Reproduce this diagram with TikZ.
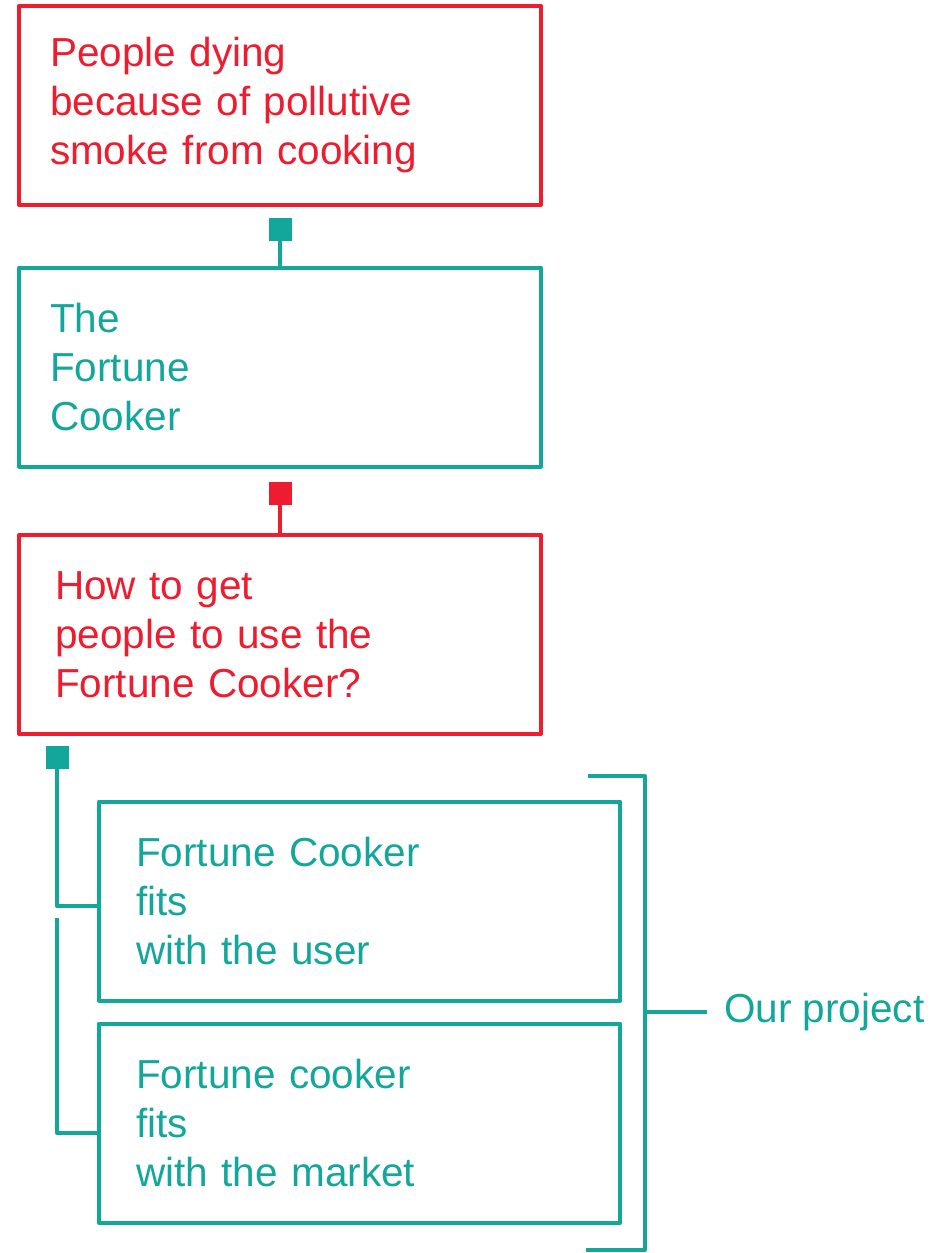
\documentclass[tikz,border=0pt]{standalone}
\usepackage{fontspec}
\setmainfont{Liberation Sans}
\usetikzlibrary{positioning, calc}

\definecolor{alarmred}{RGB}{237,28,46}
\definecolor{cookteal}{RGB}{19,167,155}

\begin{document}
\begin{tikzpicture}[x=1pt, y=-1pt, line join=round]

	%======================
	% PARAMETERS (edit here)
	%======================
	\def\bw{522}          % box width
	\def\bh{199}          % box height
	\def\sq{23}           % size of the small connector squares

	% Styles
	\tikzset{
		box/.style={draw, line width=4pt, minimum width=\bw pt, minimum height=\bh pt,
			align=left, font=\fontsize{40.5}{49}\selectfont},
		indent/.style 2 args={inner xsep=#1, text width=#2},
		redbox/.style={box, draw=alarmred, text=alarmred},
		tealbox/.style={box, draw=cookteal, text=cookteal},
		plug/.style={rectangle, draw=none, minimum size=\sq pt, inner sep=0pt},
		link/.style={line width=4pt, cookteal},
		tag/.style={text=cookteal, anchor=west, inner xsep=17pt,
			font=\fontsize{40.5}{49}\selectfont}
	}

	\useasboundingbox (0,0) rectangle (938,1253);

	%======================
	% MAIN CHAIN
	%======================
	\node[redbox, indent={31pt}{460pt}] (smoke) at (280,105.5) {People dying\\because of pollutive\\smoke from cooking};
	\node[plug, fill=cookteal] (plugA) at (280,229.5) {};
	\node[tealbox, indent={31pt}{460pt}] (cooker) at (280,367) {The\\Fortune\\Cooker};
	\node[plug, fill=alarmred] (plugB) at (280,493) {};
	\node[redbox, indent={36pt}{450pt}] (adopt) at (280,634.5) {How to get\\people to use the\\Fortune Cooker?};

	\draw[link] (plugA.south) -- (cooker.north);
	\draw[link, alarmred] (plugB.south) -- (adopt.north);

	%======================
	% SUB-QUESTIONS
	%======================
	\node[plug, fill=cookteal] (plugC) at (57,757) {};
	\node[tealbox, indent={37pt}{447pt}, minimum width=521pt] (user) at (359.5,901) {Fortune Cooker\\fits\\with the user};
	\node[tealbox, indent={37pt}{447pt}, minimum width=521pt] (market) at (359.5,1123) {Fortune cooker\\fits\\with the market};

	\coordinate (legB) at (57,918);
	\draw[link] (plugC.south) |- ([yshift=-5pt]user.west);
	\draw[link] (legB) |- ([yshift=-10pt]market.west);

	%======================
	% BRACKET: our project
	%======================
	\coordinate (brTop) at (588,776);
	\coordinate (brBot) at (586,1250);
	\coordinate (brMid) at (645,1012);
	\node[tag] (project) at (707,1012) {Our project};

	\draw[link] (brTop) -- (645,776) -- (645,1250) -- (brBot);
	\draw[link] (brMid) -- (project.west);
\end{tikzpicture}
\end{document}
